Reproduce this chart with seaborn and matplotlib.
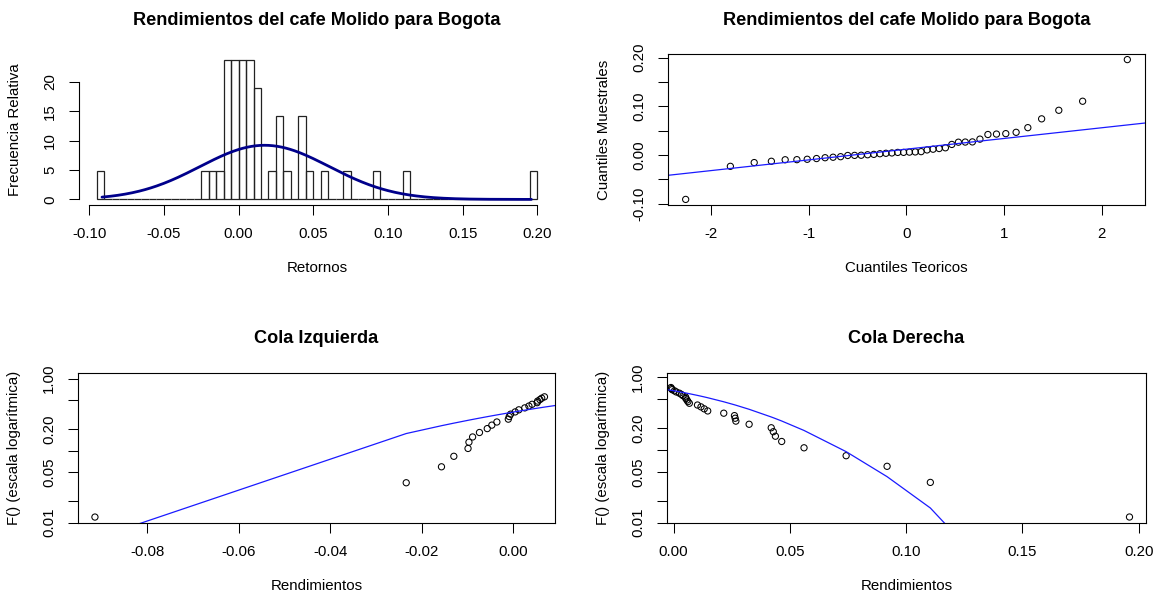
import numpy as np
import matplotlib
matplotlib.use("Agg")
import matplotlib.pyplot as plt
from matplotlib.ticker import FixedLocator, FixedFormatter, NullLocator
import seaborn as sns
from statistics import NormalDist

# ---------------- data ----------------
retornos = [
    -0.0914, -0.0234, -0.0157, -0.0130, -0.0099, -0.0097, -0.0089, -0.0074,
    -0.0057, -0.0047, -0.0036, -0.0011, -0.0009, -0.0006, 0.0004, 0.0012,
    0.0025, 0.0034, 0.0041, 0.0052, 0.0053, 0.0058, 0.0062, 0.0068,
    0.0103, 0.0118, 0.0132, 0.0147, 0.0216, 0.0262, 0.0265, 0.0268,
    0.0325, 0.0420, 0.0429, 0.0438, 0.0465, 0.0561, 0.0742, 0.0918,
    0.1104, 0.1960,
]
n_cola_izquierda = 24      # lowest observations shown in the left tail
inicio_cola_derecha = 11   # first (sorted) observation shown in the right tail

bin_start, bin_end, bin_width = -0.095, 0.200, 0.005

hist_xticks = [-0.10, -0.05, 0.00, 0.05, 0.10, 0.15, 0.20]
hist_xlabels = ["-0.10", "-0.05", "0.00", "0.05", "0.10", "0.15", "0.20"]
hist_yticks = [0, 5, 10, 15, 20]
hist_ylabels = ["0", "5", "10", "15", "20"]
qq_xticks = [-2, -1, 0, 1, 2]
qq_xlabels = ["-2", "-1", "0", "1", "2"]
qq_yticks = [-0.10, -0.05, 0.00, 0.05, 0.10, 0.15, 0.20]
qq_ylabels = ["-0.10", "", "0.00", "", "0.10", "", "0.20"]
log_yticks = [0.01, 0.02, 0.05, 0.10, 0.20, 0.50, 1.00]
log_ylabels = ["0.01", "", "0.05", "", "0.20", "", "1.00"]
izq_xticks = [-0.08, -0.06, -0.04, -0.02, 0.00]
izq_xlabels = ["-0.08", "-0.06", "-0.04", "-0.02", "0.00"]
der_xticks = [0.00, 0.05, 0.10, 0.15, 0.20]
der_xlabels = ["0.00", "0.05", "0.10", "0.15", "0.20"]

titulo = "Rendimientos del cafe Molido para Bogota"

# ---------------- style ----------------
sns.set_theme(style="ticks")
plt.rcParams["font.family"] = ["Liberation Sans", "DejaVu Sans"]
plt.rcParams["axes.facecolor"] = "white"
plt.rcParams["figure.facecolor"] = "white"
plt.rcParams["text.color"] = "black"
plt.rcParams["axes.labelcolor"] = "black"
plt.rcParams["xtick.color"] = "black"
plt.rcParams["ytick.color"] = "black"
plt.rcParams["axes.edgecolor"] = "black"

W, H = 1154, 600
fig = plt.figure(figsize=(W / 100, H / 100), dpi=100)

FS = 10.8
TFS = 13.1
BLUE = "#1a1aff"
DARKBLUE = "#00008B"


def add_ax(x0, y0, w, h):
    ax = fig.add_axes([x0 / W, 1 - (y0 + h) / H, w / W, h / H])
    ax._wpx, ax._hpx = w, h
    return ax


def r_lim(vals):
    lo, hi = float(np.min(vals)), float(np.max(vals))
    d = (hi - lo) * 0.04
    return lo - d, hi + d


def style(ax, title, xlabel, ylabel, box=True):
    for s in ax.spines.values():
        s.set_linewidth(0.8)
        s.set_color("black")
        s.set_visible(box)
    ax.tick_params(direction="out", length=7.2, width=0.75, pad=9.0,
                   labelsize=FS, colors="black")
    ax.tick_params(axis="y", labelrotation=90, pad=8.5)
    plt.setp(ax.get_yticklabels(), va="center")
    ax.set_title(title, fontsize=TFS, fontweight="bold", pad=21.0,
                 color="black")
    ax.set_xlabel(xlabel, fontsize=FS, va="center", color="black")
    ax.set_ylabel(ylabel, fontsize=FS, va="center", color="black")
    ax.xaxis.set_label_coords(0.5, -63 / ax._hpx)
    ax.yaxis.set_label_coords(-64 / ax._wpx, 0.5)
    ax.grid(False)


ret = np.array(sorted(retornos))
n = len(ret)
mu, sigma = float(ret.mean()), float(ret.std(ddof=1))
nd = NormalDist(mu, sigma)
pp = (np.arange(1, n + 1) - 0.5) / n


def hollow(ax):
    pts = ax.collections[-1]
    pts.set_facecolor("none")
    pts.set_edgecolor("black")
    pts.set_linewidth(0.75)


# ---------------- 1: histogram ----------------
ax1 = add_ax(79, 54, 476, 151)
bins = np.round(np.arange(bin_start, bin_end + bin_width / 2, bin_width), 4)
sns.histplot(x=ret, bins=bins, stat="density", fill=False, element="bars",
             color="#222222", linewidth=0.9, ax=ax1)
xs = np.linspace(ret.min(), ret.max(), 300)
sns.lineplot(x=xs, y=[nd.pdf(v) for v in xs], color=DARKBLUE, linewidth=2.0,
             ax=ax1)
counts, _ = np.histogram(ret, bins=bins)
dmax = counts.max() / (n * bin_width)
ax1.set_xlim(*r_lim(bins))
ax1.set_ylim(-0.04 * dmax, 1.04 * dmax)
ax1.xaxis.set_major_locator(FixedLocator(hist_xticks))
ax1.xaxis.set_major_formatter(FixedFormatter(hist_xlabels))
ax1.yaxis.set_major_locator(FixedLocator(hist_yticks))
ax1.yaxis.set_major_formatter(FixedFormatter(hist_ylabels))
style(ax1, titulo, "Retornos", "Frecuencia Relativa", box=False)
ax1.spines["left"].set_visible(True)
ax1.spines["bottom"].set_visible(True)
ax1.spines["left"].set_bounds(hist_yticks[0], hist_yticks[-1])
ax1.spines["bottom"].set_bounds(hist_xticks[0], hist_xticks[-1])

# ---------------- 2: QQ plot ----------------
ax2 = add_ax(668, 54, 477, 151)
teor = np.array([NormalDist().inv_cdf(v) for v in pp])
sns.scatterplot(x=teor, y=ret, marker="o", s=20, ax=ax2)
hollow(ax2)
q1, q3 = np.percentile(ret, [25, 75])
z1, z3 = NormalDist().inv_cdf(0.25), NormalDist().inv_cdf(0.75)
slope = (q3 - q1) / (z3 - z1)
ax2.axline((z1, q1), slope=slope, color=BLUE, linewidth=0.9)
ax2.set_xlim(*r_lim(teor))
ax2.set_ylim(*r_lim(ret))
ax2.xaxis.set_major_locator(FixedLocator(qq_xticks))
ax2.xaxis.set_major_formatter(FixedFormatter(qq_xlabels))
ax2.yaxis.set_major_locator(FixedLocator(qq_yticks))
ax2.yaxis.set_major_formatter(FixedFormatter(qq_ylabels))
style(ax2, titulo, "Cuantiles Teoricos", "Cuantiles Muestrales")

# ---------------- 3: left tail ----------------
ax3 = add_ax(78, 372.5, 477, 150)
sns.scatterplot(x=ret[:n_cola_izquierda], y=pp[:n_cola_izquierda],
                marker="o", s=20, ax=ax3)
hollow(ax3)
sns.lineplot(x=ret, y=[nd.cdf(v) for v in ret], sort=False, estimator=None,
             color=BLUE, linewidth=0.9, ax=ax3)
ax3.set_yscale("log")
ax3.set_xlim(-0.0951, 0.0091)
ax3.set_ylim(0.01, 1.22)
ax3.xaxis.set_major_locator(FixedLocator(izq_xticks))
ax3.xaxis.set_major_formatter(FixedFormatter(izq_xlabels))
ax3.yaxis.set_major_locator(FixedLocator(log_yticks))
ax3.yaxis.set_major_formatter(FixedFormatter(log_ylabels))
ax3.yaxis.set_minor_locator(NullLocator())
style(ax3, "Cola Izquierda", "Rendimientos", "F() (escala logarítmica)")

# ---------------- 4: right tail ----------------
ax4 = add_ax(667, 372.5, 479, 150)
sns.scatterplot(x=ret[inicio_cola_derecha:], y=1 - pp[inicio_cola_derecha:],
                marker="o", s=20, ax=ax4)
hollow(ax4)
sns.lineplot(x=ret, y=[1 - nd.cdf(v) for v in ret], sort=False,
             estimator=None, color=BLUE, linewidth=0.9, ax=ax4)
ax4.set_yscale("log")
ax4.set_xlim(-0.0028, 0.2031)
ax4.set_ylim(0.01, 1.17)
ax4.xaxis.set_major_locator(FixedLocator(der_xticks))
ax4.xaxis.set_major_formatter(FixedFormatter(der_xlabels))
ax4.yaxis.set_major_locator(FixedLocator(log_yticks))
ax4.yaxis.set_major_formatter(FixedFormatter(log_ylabels))
ax4.yaxis.set_minor_locator(NullLocator())
style(ax4, "Cola Derecha", "Rendimientos", "F() (escala logarítmica)")

fig.savefig("out.png", dpi=100)
